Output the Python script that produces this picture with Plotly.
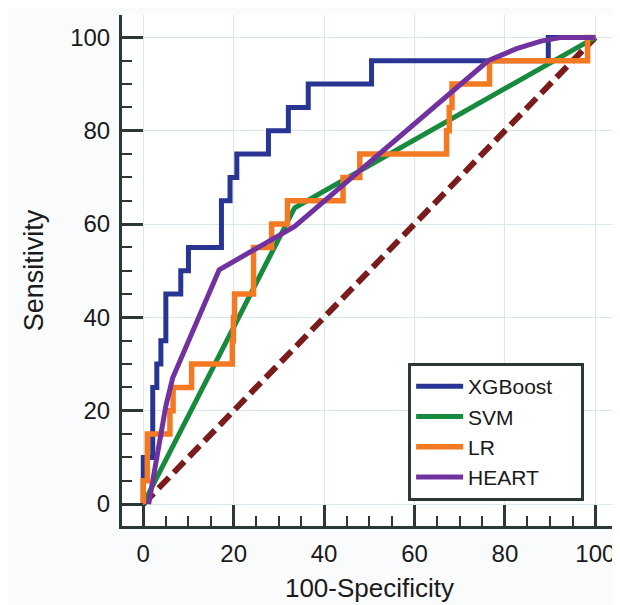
import plotly.graph_objects as go

# ROC points (100-Specificity, Sensitivity); step curves drawn with 'vh' shape
xgb_fpr = [0, 2.1, 3.0, 3.9, 5.0, 8.3, 10.0, 17.3, 19.2, 20.7, 27.7, 32.1, 36.5, 50.5, 89.6, 100]
xgb_tpr = [0, 10, 25, 30, 35, 45, 50, 55, 65, 70, 75, 80, 85, 90, 95, 100]

svm_fpr = [0, 33.5, 100]
svm_tpr = [0, 63.5, 100]

lr_fpr = [0, 0.9, 5.9, 6.6, 10.7, 19.7, 19.95, 20.2, 24.4, 28.4, 31.9, 44.2, 47.9, 67.1, 67.7, 68.3, 76.6, 98.3, 100]
lr_tpr = [0, 5, 15, 20, 25, 30, 35, 40, 45, 55, 60, 65, 70, 75, 80, 85, 90, 95, 100]

heart_fpr = [1.2, 3.2, 5.0, 6.5, 16.8, 33.5, 76.3, 82.6, 88.0, 92.5, 100]
heart_tpr = [0, 11, 21, 27, 50.2, 59.5, 95, 97.6, 99.2, 100, 100]

ref_x = [0, 100]
ref_y = [0, 100]

series_names = ["XGBoost", "SVM", "LR", "HEART"]
tick_vals = [0, 20, 40, 60, 80, 100]

FONT = "Liberation Sans, Arial, sans-serif"
AXCOL = "#2b3838"
PAD = "\u00a0" * 4  # extra room on the right of the legend box

fig = go.Figure()
fig.add_trace(go.Scatter(x=ref_x, y=ref_y, mode="lines", showlegend=False,
                         line=dict(color="#7a1c1c", width=6, dash="15px,7px")))
fig.add_trace(go.Scatter(x=xgb_fpr, y=xgb_tpr, mode="lines", name=series_names[0] + PAD,
                         line=dict(color="#283593", width=5, shape="vh")))
fig.add_trace(go.Scatter(x=svm_fpr, y=svm_tpr, mode="lines", name=series_names[1],
                         line=dict(color="#178a3d", width=5)))
fig.add_trace(go.Scatter(x=lr_fpr, y=lr_tpr, mode="lines", name=series_names[2],
                         line=dict(color="#f37a22", width=5.5, shape="vh")))
fig.add_trace(go.Scatter(x=heart_fpr, y=heart_tpr, mode="lines", name=series_names[3],
                         line=dict(color="#7132a0", width=5)))

axis_common = dict(
    range=[-4.7, 104.8],
    tickmode="array", tickvals=tick_vals, ticktext=[str(v) for v in tick_vals],
    ticks="inside", ticklen=21, tickwidth=2.5, tickcolor=AXCOL,
    minor=dict(ticks="inside", ticklen=10, tickwidth=2, tickcolor=AXCOL, dtick=5, tick0=0, showgrid=False),
    showline=True, linewidth=3, linecolor=AXCOL, mirror=False,
    showgrid=True, gridcolor="#d9e7ef", gridwidth=1, zeroline=False,
    tickfont=dict(family=FONT, size=24, color="#1a1a1a"),
    fixedrange=True, automargin=False,
)

fig.update_xaxes(**axis_common,
                 title=dict(text="100-Specificity", font=dict(family=FONT, size=26, color="#1a1a1a"), standoff=14),
                 ticklabelstandoff=4)
fig.update_yaxes(**axis_common,
                 title=dict(text="Sensitivity", font=dict(family=FONT, size=27, color="#1a1a1a"), standoff=19),
                 ticklabelstandoff=4)

# page body adds an 8px offset, so the figure is 8px smaller than the window
fig.update_layout(
    width=612, height=597,
    margin=dict(l=114, r=3, t=7, b=79),
    paper_bgcolor="#fafbfc", plot_bgcolor="#ffffff",
    font=dict(family=FONT, color="#1a1a1a"),
    legend=dict(x=0.578, y=0.319, xanchor="left", yanchor="top",
                bgcolor="#ffffff", bordercolor=AXCOL, borderwidth=3,
                font=dict(family=FONT, size=21, color="#1a1a1a"),
                tracegroupgap=0, itemwidth=47),
    showlegend=True,
)

fig.write_html("out.html")
